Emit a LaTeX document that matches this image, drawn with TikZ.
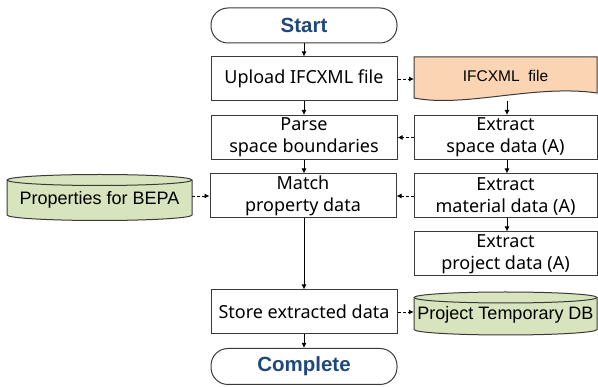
\documentclass[tikz,border=0pt]{standalone}
\usepackage{fontspec}
\usetikzlibrary{arrows.meta}
\newfontfamily\boxfont{Noto Sans}
\newfontfamily\arialfont{Liberation Sans}
\definecolor{titleblue}{HTML}{1F497D}
\definecolor{peach}{HTML}{FBD4B4}
\definecolor{dbgreen}{HTML}{D7E4BD}
\definecolor{edge}{HTML}{3A3A3A}
\tikzset{
  procbox/.style={draw=edge, line width=1pt, minimum width=186pt, minimum height=44pt, inner sep=0pt, align=center, font=\boxfont\fontsize{18}{22}\selectfont},
  rbox/.style={procbox, minimum width=183pt},
  term/.style={draw=edge, line width=1pt, rounded corners=17pt, minimum width=186pt, minimum height=35pt, inner sep=0pt, font=\arialfont\bfseries\fontsize{20.5}{22}\selectfont, text=titleblue},
  flow/.style={line width=0.9pt, -{Latex[length=5pt,width=5pt]}},
  dflow/.style={line width=0.9pt, dash pattern=on 3pt off 2pt, -{Latex[length=5pt,width=5pt]}},
  shapeline/.style={draw=edge, line width=1pt},
}
\begin{document}
\begin{tikzpicture}[x=1pt,y=-1pt]
\useasboundingbox (0,0) rectangle (598,387);
% terminators
\node[term] (start) at (304,25.5) {Start};
\node[term, minimum height=36pt] (complete) at (304,366.5) {Complete};
% main column
\node[procbox] (upload) at (304,79) {Upload IFCXML file};
\node[procbox] (parse) at (304,137.5) {Parse\\space boundaries};
\node[procbox] (match) at (303,196) {Match\\property data};
\node[procbox] (store) at (304,312) {Store extracted data};
% right column
\fill[peach] (414,57) -- (597,57) -- (597,93) .. controls (535,84) and (465,108) .. (414,98) -- cycle;
\draw[shapeline] (414,57) -- (597,57) -- (597,93) .. controls (535,84) and (465,108) .. (414,98) -- cycle;
\node[font=\arialfont\fontsize{15.5}{18}\selectfont, inner sep=0pt] (ifc) at (505.5,76) {IFCXML\ \ file};
\coordinate (ifcleft) at (414,79);
\coordinate (ifcbot) at (507,101);
\node[rbox] (space) at (505.5,137.5) {Extract\\space data (A)};
\node[rbox] (material) at (505.5,196) {Extract\\material data (A)};
\node[rbox] (project) at (505.5,254) {Extract\\project data (A)};
% cylinders
\filldraw[fill=dbgreen, shapeline] (7,180) -- (7,215) arc[start angle=180, end angle=360, x radius=92.5pt, y radius=5.5pt] -- (192,180) arc[start angle=0, end angle=180, x radius=92.5pt, y radius=5.5pt] -- cycle;
\draw[shapeline] (7,180) arc[start angle=180, end angle=360, x radius=92.5pt, y radius=5.5pt];
\node[minimum width=185pt, minimum height=30pt, inner sep=0pt, font=\arialfont\fontsize{18}{21}\selectfont] (bepa) at (99.5,200) {Properties for BEPA};
\filldraw[fill=dbgreen, shapeline] (414,297.5) -- (414,329.5) arc[start angle=180, end angle=360, x radius=91.5pt, y radius=5.5pt] -- (597,297.5) arc[start angle=0, end angle=180, x radius=91.5pt, y radius=5.5pt] -- cycle;
\draw[shapeline] (414,297.5) arc[start angle=180, end angle=360, x radius=91.5pt, y radius=5.5pt];
\node[minimum width=183pt, minimum height=30pt, inner sep=0pt, font=\arialfont\fontsize{18}{21}\selectfont] (tempdb) at (505.5,315) {Project Temporary DB};
% solid connectors
\draw[flow] (start.south) -- (upload.north);
\draw[flow] (upload.south) -- (parse.north);
\draw[flow] (parse.south) -- (match.north -| parse.south);
\draw[flow] (match.south -| store.north) -- (store.north);
\draw[flow] (store.south) -- (complete.north);
\draw[flow] (ifcbot) -- (ifcbot |- space.north);
\draw[flow] (space.south -| ifcbot) -- (ifcbot |- material.north);
\draw[flow] (material.south -| ifcbot) -- (ifcbot |- project.north);
% dashed connectors
\draw[dflow] (upload.east) -- (ifcleft);
\draw[dflow] (space.west) -- (parse.east);
\draw[dflow] (material.west) -- (match.east);
\draw[dflow] (bepa.east |- match.west) -- (match.west);
\draw[dflow] (store.east) -- (store.east -| tempdb.west);
\end{tikzpicture}
\end{document}
